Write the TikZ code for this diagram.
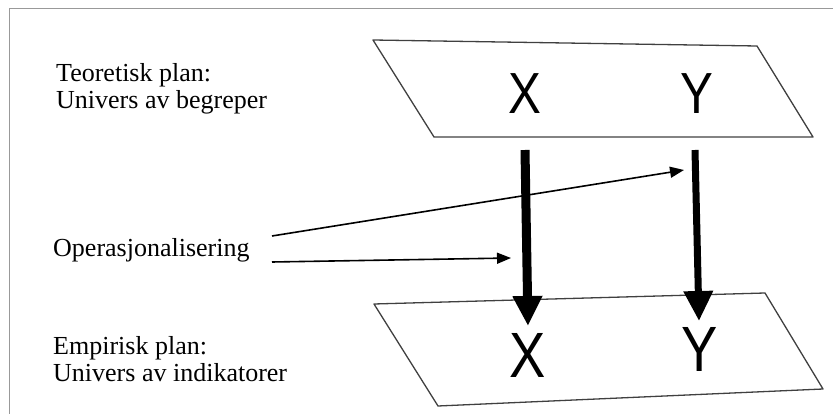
\documentclass[tikz,border=0pt]{standalone}
\usepackage{fontspec}
\setmainfont{Liberation Serif}
\newfontfamily\xyfont[FakeStretch=0.85]{Liberation Sans}
\usetikzlibrary{arrows.meta}
\begin{document}
\begin{tikzpicture}[x=1pt,y=-1pt,
  planeedge/.style={draw=black!75,line width=1.3pt,line join=round},
  label/.style={font=\fontsize{26}{27}\selectfont,inner sep=0pt,align=left,anchor=base west},
  varbig/.style={font=\xyfont\fontsize{58}{58}\selectfont,inner sep=0pt},
  varbot/.style={font=\xyfont\fontsize{64}{64}\selectfont,inner sep=0pt},
  thinarrow/.style={line width=1.6pt,-{Triangle[length=14pt,width=11pt]}},
  bigarrow/.style={line width=#1,-{Triangle[length=30pt,width=28pt]}},
]
\useasboundingbox (0,0) rectangle (833,414);
% frame
\draw[black!40,line width=1pt] (9,414) -- (9,9) -- (833,9);
% planes
\draw[planeedge] (373,40) -- (757,46) -- (813,137) -- (434,137) -- cycle;
\draw[planeedge] (374,304) -- (765,293) -- (823,389) -- (438,406) -- cycle;
% texts (anchor is the baseline of the last line)
\node[label] (teo) at (56,109) {Teoretisk plan:\\Univers av begreper};
\node[label] (ope) at (53,257) {Operasjonalisering};
\node[label] (emp) at (53,381) {Empirisk plan:\\Univers av indikatorer};
% variables
\node[varbig] (xt) at (525,94) {X};
\node[varbig] (yt) at (697,94) {Y};
\node[varbot] (xb) at (528,355) {X};
\node[varbot] (yb) at (700,349) {Y};
% arrow coordinates
\coordinate (xs) at (525,150);
\coordinate (xe) at (528,326);
\coordinate (ys) at (695,150);
\coordinate (ye) at (699,321);
\coordinate (o1) at (272,236);
\coordinate (o1e) at (684,170);
\coordinate (o2) at (272,262);
\coordinate (o2e) at (511,258);
\draw[bigarrow=9pt] (xs) -- (xe);
\draw[bigarrow=7pt] (ys) -- (ye);
\draw[thinarrow] (o1) -- (o1e);
\draw[thinarrow] (o2) -- (o2e);
\end{tikzpicture}
\end{document}
